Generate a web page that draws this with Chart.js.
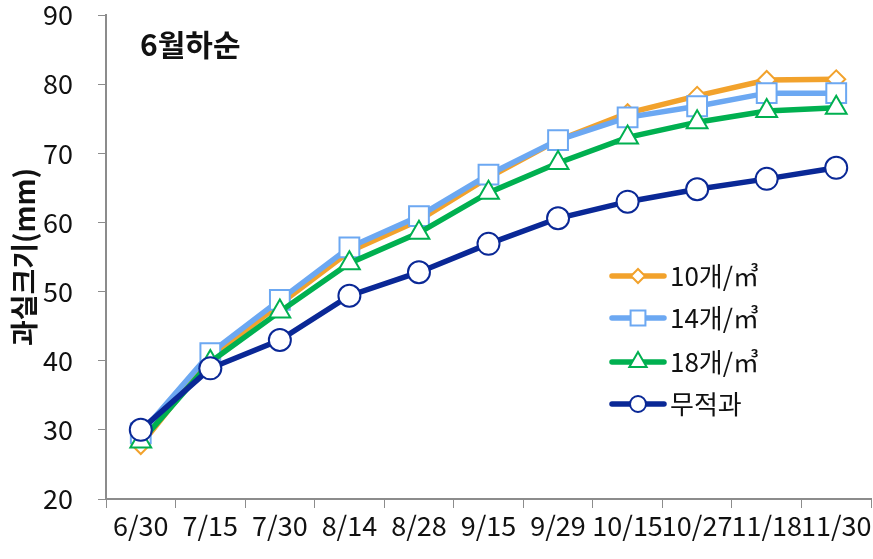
<!DOCTYPE html>
<html>
<head>
<meta charset="utf-8">
<script src="https://cdn.jsdelivr.net/npm/chart.js@4.4.1/dist/chart.umd.min.js"></script>
<style>
    html, body { margin: 0; padding: 0; background: #fff; }
    #wrap { width: 873px; height: 559px; }
</style>
</head>
<body>
<div id="wrap"><canvas id="fruit"></canvas></div>
<script>
const dates = ["6/30", "7/15", "7/30", "8/14", "8/28", "9/15", "9/29", "10/15", "10/27", "11/18", "11/30"];

const thin10 = [27.8, 40.5, 48.2, 55.8, 60.3, 66.5, 71.9, 75.8, 78.3, 80.6, 80.7];
const thin14 = [29.5, 41.1, 48.8, 56.4, 60.9, 66.9, 71.9, 75.2, 76.8, 78.7, 78.7];
const thin18 = [28.3, 39.8, 47.1, 54.1, 58.5, 64.3, 68.6, 72.3, 74.5, 76.1, 76.6];
const noThin = [30.0, 38.9, 43.0, 49.4, 52.8, 56.9, 60.6, 63.0, 64.8, 66.3, 67.9];

const seriesNames = ["10개/㎥", "14개/㎥", "18개/㎥", "무적과"];

const fontKr = "'Noto Sans CJK KR', 'Noto Sans', sans-serif";

function makeSet(label, data, color, style, radius, keyRadius, order) {
    return {
        label: label,
        data: data,
        borderColor: color,
        backgroundColor: "#fff",
        borderWidth: 5.5,
        pointStyle: style,
        pointRadius: radius,
        pointHoverRadius: radius,
        pointBorderWidth: 2,
        pointBorderColor: color,
        pointBackgroundColor: "#fff",
        tension: 0,
        fill: false,
        clip: false,
        order: order,
        keyRadius: keyRadius
    };
}

const datasets = [
    makeSet(seriesNames[0], thin10, "#F2A22C", "rectRot", 9, 7, 3),
    makeSet(seriesNames[1], thin14, "#6CA8F2", "rect", 14, 10.5, 2),
    makeSet(seriesNames[2], thin18, "#00B050", "triangle", 12, 10, 1),
    makeSet(seriesNames[3], noThin, "#0A2896", "circle", 11, 8, 0)
];

// title and legend sit inside the plot area
const overlay = {
    id: "overlay",
    afterDraw(chart) {
        const ctx = chart.ctx;
        ctx.save();
        ctx.fillStyle = "#111";
        ctx.textBaseline = "middle";
        ctx.textAlign = "left";
        ctx.font = "bold 30px " + fontKr;
        ctx.fillText("6월하순", 140, 45);

        const rows = [276, 318, 362, 404];
        datasets.forEach((ds, i) => {
            const y = rows[i];
            ctx.strokeStyle = ds.borderColor;
            ctx.lineWidth = 5.5;
            ctx.lineCap = "round";
            ctx.beginPath();
            ctx.moveTo(612, y);
            ctx.lineTo(664, y);
            ctx.stroke();
            ctx.fillStyle = "#fff";
            ctx.lineWidth = 2;
            Chart.helpers.drawPoint(ctx, {
                pointStyle: ds.pointStyle,
                radius: ds.keyRadius,
                borderWidth: 2,
                rotation: 0
            }, 638, y);
            ctx.fillStyle = "#111";
            ctx.font = "26px " + fontKr;
            ctx.fillText(ds.label, 670, y);
        });
        ctx.restore();
    }
};

new Chart(document.getElementById("fruit"), {
    type: "line",
    data: { labels: dates, datasets: datasets },
    options: {
        responsive: true,
        maintainAspectRatio: false,
        animation: false,
        layout: { autoPadding: false, padding: { top: 15, right: 2, left: 0, bottom: 0 } },
        plugins: {
            legend: { display: false },
            tooltip: { enabled: false }
        },
        scales: {
            x: {
                offset: true,
                grid: { offset: true, drawOnChartArea: false, color: "#8c8c8c", tickLength: 9 },
                border: { color: "#8c8c8c", width: 2 },
                ticks: { color: "#111", font: { size: 27, family: fontKr }, padding: 2, maxRotation: 0, autoSkip: false },
                afterFit: s => {
                    s.height = 60;
                    s.paddingLeft = 0;
                    s.paddingRight = 0;
                }
            },
            y: {
                min: 20,
                max: 90,
                ticks: { stepSize: 10, color: "#111", font: { size: 27, family: fontKr }, padding: 25 },
                grid: { drawOnChartArea: false, color: "#8c8c8c", tickLength: 8 },
                border: { color: "#8c8c8c", width: 2 },
                title: {
                    display: true,
                    text: "과실크기(mm)",
                    color: "#111",
                    font: { size: 28, weight: "bold", family: fontKr },
                    padding: { top: 8, bottom: 0 }
                },
                afterFit: s => {
                    s.width = 106;
                    s.paddingTop = 0;
                    s.paddingBottom = 0;
                }
            }
        }
    },
    plugins: [overlay]
});
</script>
</body>
</html>
